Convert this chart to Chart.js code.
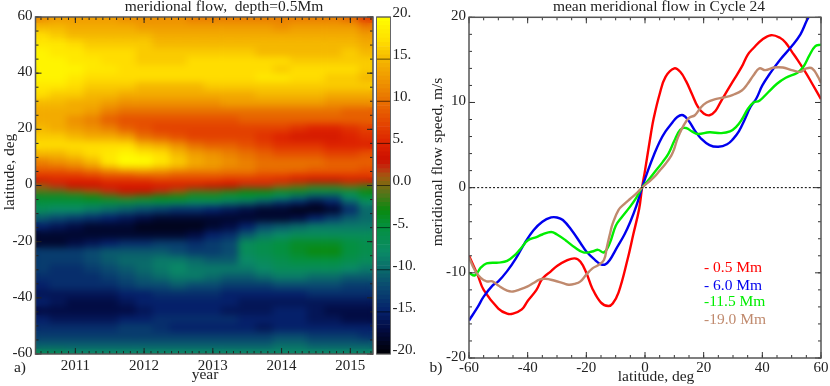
<!DOCTYPE html>
<html>
<head>
<meta charset="utf-8">
<script src="https://cdn.jsdelivr.net/npm/chart.js@4"></script>
<style>
  html, body { margin: 0; padding: 0; background: #fff; overflow: hidden; }
  canvas { position: absolute; top: 0; }
</style>
</head>
<body>
<canvas id="flowMap" width="375" height="386" style="left:0"></canvas>
<canvas id="colorBar" width="45" height="386" style="left:370px"></canvas>
<canvas id="meanFlow" width="415" height="386" style="left:415px"></canvas>
<script>
// panel a) columns, in years
var years = [2010.5, 2010.75, 2011, 2011.25, 2011.5, 2011.75, 2012, 2012.25, 2012.5, 2012.75,
             2013, 2013.25, 2013.5, 2013.75, 2014, 2014.25, 2014.5, 2014.75, 2015, 2015.25];
var yearTicks = [2011, 2012, 2013, 2014, 2015];

// panel a) row edges in latitude, one more than there are rows
var latEdges = [62, 58, 55, 52, 49, 46, 43, 40, 37, 34, 31, 28, 25, 22, 19, 16, 13, 10, 7, 5, 3, 1,
                -1, -3, -5, -7, -10, -13, -16, -19, -22, -25, -28, -31, -34, -37, -40, -43, -46, -49, -52, -55, -58, -62];

// panel a) flow speed m/s, one row per latitude band, north to south
var flowRows = [
  [12, 13, 13, 13, 13, 12, 12, 12, 12, 11, 11, 11, 11, 11, 11, 11, 11, 11, 10, 7],
  [15, 15, 14, 14, 14, 14, 13, 13, 13, 13, 13, 13, 13, 13, 12, 13, 13, 13, 13, 11],
  [17, 16, 15, 15, 15, 15, 15, 14, 14, 14, 14, 14, 14, 14, 14, 14, 14, 14, 14, 13],
  [18, 18, 17, 16, 16, 16, 16, 15, 15, 15, 15, 15, 15, 15, 15, 15, 15, 15, 15, 14],
  [19, 18, 18, 17, 17, 17, 16, 16, 16, 16, 16, 16, 16, 15, 15, 15, 15, 15, 16, 15],
  [19, 19, 18, 18, 17, 17, 16, 16, 16, 17, 17, 17, 17, 17, 17, 16, 16, 16, 16, 16],
  [19, 19, 19, 18, 18, 17, 17, 17, 17, 17, 17, 17, 17, 17, 16, 17, 17, 17, 17, 16],
  [19, 19, 18, 17, 17, 17, 17, 17, 17, 17, 17, 17, 17, 18, 18, 17, 17, 16, 16, 15],
  [18, 18, 17, 16, 16, 16, 15, 15, 15, 15, 16, 16, 16, 16, 16, 16, 16, 16, 16, 16],
  [17, 16, 16, 15, 15, 14, 14, 14, 14, 14, 14, 14, 14, 15, 15, 15, 15, 14, 14, 14],
  [15, 15, 14, 14, 13, 12, 12, 12, 12, 12, 12, 13, 13, 13, 13, 13, 13, 12, 12, 12],
  [14, 14, 14, 13, 11, 10, 10, 10, 10, 10, 10, 10, 10, 10, 10, 10, 10, 10, 9, 9],
  [14, 14, 12, 11, 9, 8, 8, 8, 8, 8, 8, 8, 9, 9, 9, 9, 9, 9, 9, 9],
  [15, 14, 13, 12, 11, 9, 8, 7, 7, 7, 7, 7, 7, 7, 7, 6, 5, 5, 6, 7],
  [16, 16, 15, 14, 14, 13, 10, 9, 8, 7, 7, 7, 7, 6, 5, 4, 4, 4, 5, 6],
  [17, 17, 17, 17, 17, 17, 15, 14, 12, 10, 9, 9, 8, 7, 6, 6, 6, 5, 5, 5],
  [15, 15, 16, 17, 18, 19, 18, 17, 15, 13, 12, 11, 10, 9, 8, 8, 8, 7, 7, 8],
  [11, 12, 13, 15, 18, 20, 20, 18, 16, 14, 13, 12, 11, 10, 10, 10, 10, 9, 9, 9],
  [9, 9, 10, 11, 13, 15, 15, 14, 13, 12, 12, 11, 11, 10, 10, 10, 9, 9, 9, 8],
  [7, 7, 7, 8, 9, 9, 10, 10, 9, 9, 9, 9, 9, 8, 8, 7, 7, 7, 7, 7],
  [4, 5, 5, 5, 6, 6, 6, 7, 7, 7, 7, 6, 6, 6, 5, 4, 3, 3, 4, 4],
  [1, 2, 3, 3, 4, 4, 4, 4, 4, 4, 3, 3, 2, 2, 1, 0, -1, -1, 0, -1],
  [-1, -1, 0, 1, 2, 3, 3, 2, 1, -1, -1, -2, -3, -3, -4, -4, -5, -5, -5, -3],
  [-4, -4, -4, -3, -2, -1, -2, -3, -3, -4, -4, -5, -5, -6, -8, -10, -12, -12, -8, -5],
  [-5, -5, -5, -5, -5, -5, -6, -6, -7, -8, -8, -9, -10, -12, -14, -15, -17, -15, -11, -8],
  [-7, -8, -8, -9, -10, -11, -12, -13, -14, -14, -15, -16, -17, -18, -18, -19, -19, -18, -14, -10],
  [-11, -12, -13, -14, -15, -16, -17, -18, -18, -18, -18, -18, -18, -18, -18, -17, -15, -13, -11, -10],
  [-15, -16, -17, -18, -18, -18, -19, -19, -19, -19, -18, -17, -15, -12, -11, -10, -9, -9, -9, -9],
  [-18, -18, -18, -18, -18, -18, -18, -18, -18, -17, -15, -14, -11, -9, -8, -7, -7, -7, -7, -7],
  [-18, -18, -17, -16, -15, -14, -14, -13, -13, -14, -13, -12, -7, -6, -5, -4, -4, -4, -5, -6],
  [-13, -13, -13, -12, -11, -11, -11, -11, -12, -13, -13, -12, -7, -6, -5, -4, -3, -3, -5, -6],
  [-13, -13, -13, -12, -11, -10, -10, -9, -9, -10, -11, -11, -8, -7, -6, -5, -5, -5, -6, -7],
  [-13, -14, -14, -13, -12, -11, -10, -9, -8, -9, -9, -9, -9, -8, -7, -7, -7, -7, -8, -9],
  [-14, -14, -14, -14, -13, -12, -11, -10, -9, -9, -10, -11, -11, -10, -9, -9, -10, -10, -11, -11],
  [-15, -14, -14, -14, -14, -13, -12, -12, -11, -12, -12, -13, -13, -13, -12, -12, -12, -12, -13, -13],
  [-16, -16, -16, -16, -16, -15, -15, -14, -14, -14, -14, -15, -15, -15, -15, -15, -14, -14, -14, -14],
  [-15, -16, -17, -17, -17, -16, -15, -15, -15, -15, -15, -15, -16, -16, -16, -16, -16, -16, -16, -16],
  [-17, -17, -17, -17, -17, -17, -16, -15, -15, -15, -15, -16, -16, -16, -15, -15, -16, -17, -17, -17],
  [-15, -16, -16, -16, -16, -15, -15, -14, -14, -14, -14, -14, -15, -15, -15, -15, -16, -16, -17, -17],
  [-14, -14, -14, -14, -14, -13, -13, -14, -15, -15, -15, -15, -15, -16, -15, -15, -15, -15, -15, -15],
  [-13, -13, -13, -13, -13, -13, -13, -13, -13, -13, -13, -13, -13, -13, -12, -12, -13, -13, -13, -14],
  [-11, -11, -11, -11, -11, -11, -11, -11, -11, -11, -11, -11, -11, -11, -10, -10, -11, -11, -11, -11],
  [-7, -7, -8, -8, -8, -8, -8, -8, -8, -8, -8, -8, -8, -8, -8, -8, -8, -8, -8, -8]
];

// colour table for the map and its bar
var colorValues = [-20, -17, -15, -12, -10, -8, -5, -3, -1, 0, 1, 2, 3, 5, 8, 10, 12, 15, 17, 20];
var colorStops = ['#000005', '#020c44', '#05206a', '#0a4a70', '#0a6a6a', '#0a8a66', '#049040', '#0a8a10',
                  '#55751a', '#7a6a10', '#a05a10', '#c03010', '#cc1100', '#dd2200', '#e65000', '#e87000',
                  '#ee9000', '#f5b800', '#ffdd00', '#ffff00'];
var colorBarTicks = [-20, -15, -10, -5, 0, 5, 10, 15, 20];

// panel b) curves, latitude then speed
var lat05 = [-60, -57, -55, -50, -47, -45, -42, -40, -37, -35, -32, -30, -27, -24, -22, -20, -18, -15, -12.5, -11, -9, -6, -4, -2, -1, 0, 2, 3, 5, 7, 10, 12, 14, 16, 18, 20, 22, 24, 26, 30, 33, 35, 37, 40, 43, 46, 48, 50, 52, 55, 57, 60];
var val05 = [-8, -10.3, -12, -14.2, -14.8, -14.8, -14.3, -13.3, -12, -10.7, -9.8, -9.2, -8.6, -8.3, -8.7, -10, -11.8, -13.5, -13.9, -13.6, -12.3, -8.5, -5.5, -2.5, 0, 2, 6.3, 8.2, 11, 13, 14, 13.6, 12.5, 11, 9.5, 8.7, 8.5, 9, 10.2, 12.5, 14.2, 15.6, 16.4, 17.4, 17.9, 17.6, 17, 16, 15, 13.4, 12.2, 10.4];

var lat60 = [-60, -57, -55, -52, -50, -47, -44, -41, -38, -35, -32, -30, -28, -25, -22, -20, -17, -15, -13.5, -12, -10, -7, -5, -3, -1, 1, 3, 5, 7, 9, 11, 13, 15, 17, 19, 22, 25, 28, 30, 32, 34, 36, 38, 40, 43, 46, 50, 53, 55, 56, 58, 60];
var val60 = [-15.6, -14, -12.8, -11.5, -11, -9.8, -8.3, -6.5, -5, -4, -3.5, -3.5, -3.8, -5, -6.5, -7.5, -8.5, -9, -9, -8.5, -7.3, -5.5, -4, -2.2, 0, 2, 3.8, 5.4, 6.6, 7.5, 8.3, 8.5, 7.8, 6.7, 5.8, 5, 4.8, 5.1, 5.7, 6.6, 8, 9.5, 10.5, 12, 13.6, 15, 16.6, 18, 19.5, 20.2, 22, 24];

var lat115 = [-60, -58, -56, -54, -50, -47, -44, -42, -40, -37, -35, -32, -30, -27, -24, -21, -18, -16, -14, -12, -10, -8, -5, -3, -1, 1, 3, 6, 8, 10, 12, 14, 16, 18, 22, 26, 29, 31, 33, 35, 37, 39, 42, 45, 48, 52, 54, 56, 58, 60];
var val115 = [-10, -10.3, -9.4, -8.9, -8.8, -8.6, -7.8, -7, -6.2, -5.8, -5.5, -5.2, -5.5, -6.2, -7, -7.6, -7.5, -7.3, -7.6, -6.5, -4.5, -3.5, -2.2, -1.2, 0, 0.8, 1.7, 3, 4, 5.5, 6.8, 7, 6.6, 6.3, 6.5, 6.4, 6.6, 7.1, 8, 9.2, 10, 10.2, 11.2, 12.2, 12.9, 13.5, 14.2, 15.5, 16.6, 16.8];

var lat190 = [-60, -58, -56, -54, -52, -50, -47, -45, -43, -40, -38, -36, -34, -31, -28, -26, -24, -22, -20, -18, -16, -14, -13, -12, -11, -9, -7, -5, -3, -1, 1, 3, 5, 7, 9, 10, 11, 12, 13, 15, 17, 19, 21, 24, 27, 30, 33, 35, 37, 39, 41, 44, 47, 50, 53, 55, 57, 59, 60];
var val190 = [-8.2, -9.7, -10.6, -11, -11, -11.5, -12.1, -12.2, -12, -11.6, -11.2, -10.8, -10.7, -10.9, -11.2, -11.4, -11.3, -11, -10.2, -9.5, -9.1, -8.5, -7, -5.5, -4.2, -2.6, -1.9, -1.3, -0.7, 0, 0.6, 1.2, 2, 2.8, 3.8, 4.6, 5.7, 6.5, 7.2, 8.2, 8.5, 9.4, 10, 10.4, 10.6, 10.9, 11.4, 12.2, 13.2, 14, 13.8, 14.1, 14.1, 13.8, 13.6, 14, 14, 13, 12.3];

var depthLabels = ['- 0.5 Mm', '- 6.0 Mm', '-11.5 Mm', '-19.0 Mm'];
var depthColors = ['#ff0000', '#0000ee', '#00ee00', '#c08a6e'];

var serif = '"Liberation Serif", "Times New Roman", serif';
var inkColor = '#222';

function hexToRgb(hex)
{
  return [parseInt(hex.substr(1, 2), 16), parseInt(hex.substr(3, 2), 16), parseInt(hex.substr(5, 2), 16)];
}

// piecewise colour lookup in the table above
function colorFor(value)
{
  var i = 0;
  while (i < colorValues.length - 2 && value > colorValues[i + 1]) {
    i++;
  }
  var t = (value - colorValues[i]) / (colorValues[i + 1] - colorValues[i]);
  t = Math.max(0, Math.min(1, t));
  var a = hexToRgb(colorStops[i]);
  var b = hexToRgb(colorStops[i + 1]);
  return 'rgb(' + Math.round(a[0] + (b[0] - a[0]) * t) + ',' + Math.round(a[1] + (b[1] - a[1]) * t) + ',' + Math.round(a[2] + (b[2] - a[2]) * t) + ')';
}

function pairs(xs, ys)
{
  var out = [];
  for (var i = 0; i < xs.length; i++) {
    out.push({x: xs[i], y: ys[i]});
  }
  return out;
}

function range(from, to, step)
{
  var out = [];
  for (var v = from; v <= to + 1e-6; v += step) {
    out.push(v);
  }
  return out;
}

// inward ticks on all four sides and the frame round the plot
var frameTicks = {
  id: 'frameTicks',
  afterDraw: function (chart, args, opts) {
    var ctx = chart.ctx;
    var area = chart.chartArea;
    var x = chart.scales.x;
    var y = chart.scales.y;
    ctx.save();
    ctx.strokeStyle = opts.tickColor;
    ctx.lineWidth = 1;
    ctx.beginPath();
    function xTicks(list, len) {
      list.forEach(function (v) {
        var p = x.getPixelForValue(v);
        ctx.moveTo(p, area.bottom); ctx.lineTo(p, area.bottom - len);
        ctx.moveTo(p, area.top); ctx.lineTo(p, area.top + len);
      });
    }
    function yTicks(list, len) {
      list.forEach(function (v) {
        var p = y.getPixelForValue(v);
        ctx.moveTo(area.left, p); ctx.lineTo(area.left + len, p);
        ctx.moveTo(area.right, p); ctx.lineTo(area.right - len, p);
      });
    }
    xTicks(opts.xMinor, 3);
    xTicks(opts.xMajor, 6);
    yTicks(opts.yMinor, 3);
    yTicks(opts.yMajor, 6);
    ctx.stroke();
    ctx.strokeStyle = '#555';
    ctx.lineWidth = 1.5;
    ctx.strokeRect(area.left, area.top, area.right - area.left, area.bottom - area.top);
    ctx.restore();
  }
};

// free text: panel letters, axis names, titles and the depth list
var freeText = {
  id: 'freeText',
  afterDraw: function (chart, args, opts) {
    var ctx = chart.ctx;
    opts.items.forEach(function (item) {
      ctx.save();
      ctx.translate(item.x, item.y);
      if (item.rot) {
        ctx.rotate(item.rot);
      }
      ctx.font = (item.size || 15.5) + 'px ' + serif;
      ctx.fillStyle = item.color || inkColor;
      ctx.textAlign = item.align || 'center';
      ctx.textBaseline = 'middle';
      ctx.fillText(item.text, 0, 0);
      ctx.restore();
    });
  }
};

// the map is soft in the original, so the cells get blurred into each other
var softenCells = {
  id: 'softenCells',
  afterDatasetsDraw: function (chart) {
    var ctx = chart.ctx;
    var a = chart.chartArea;
    ctx.save();
    ctx.beginPath();
    ctx.rect(a.left, a.top, a.right - a.left, a.bottom - a.top);
    ctx.clip();
    ctx.filter = 'blur(3.5px)';
    ctx.drawImage(chart.canvas, 0, 0);
    ctx.restore();
  }
};

var mapDatasets = [];
for (var r = 0; r < flowRows.length; r++) {
  var cells = [];
  var cellColors = [];
  for (var c = 0; c < years.length; c++) {
    cells.push({x: years[c], y: [latEdges[r + 1], latEdges[r]]});
    cellColors.push(colorFor(flowRows[r][c]));
  }
  mapDatasets.push({
    data: cells,
    backgroundColor: cellColors,
    grouped: false,
    categoryPercentage: 1,
    barPercentage: 1,
    borderWidth: 0
  });
}

var tickFont = {family: serif, size: 15};

var flowMap = new Chart(document.getElementById('flowMap'), {
  type: 'bar',
  data: {datasets: mapDatasets},
  plugins: [softenCells, frameTicks, freeText],
  options: {
    responsive: false,
    animation: false,
    layout: {padding: {top: 17, right: 2, left: 0, bottom: 0}},
    plugins: {
      legend: {display: false},
      tooltip: {enabled: false},
      frameTicks: {
        tickColor: '#222',
        xMajor: yearTicks,
        xMinor: range(2010.5, 2015.3, 0.1),
        yMajor: range(-60, 60, 20),
        yMinor: range(-60, 60, 5)
      },
      freeText: {
        items: [
          {text: 'meridional flow,  depth=0.5Mm', x: 224, y: 7},
          {text: 'latitude, deg', x: 10, y: 172, rot: -Math.PI / 2},
          {text: 'year', x: 205, y: 375},
          {text: 'a)', x: 20, y: 368}
        ]
      }
    },
    scales: {
      x: {
        type: 'linear',
        min: 2010.42,
        max: 2015.33,
        offset: false,
        grid: {display: false, offset: false, drawTicks: false},
        border: {display: false},
        afterFit: function (s) { s.height = 32; },
        afterBuildTicks: function (s) { s.ticks = yearTicks.map(function (v) { return {value: v}; }); },
        ticks: {
          font: tickFont,
          color: inkColor,
          padding: 3,
          maxRotation: 0,
          autoSkip: false,
          callback: function (v) { return String(v); }
        }
      },
      y: {
        min: -60,
        max: 60,
        grid: {display: false, drawTicks: false},
        border: {display: false},
        afterFit: function (s) { s.width = 35.5; },
        ticks: {stepSize: 20, font: tickFont, color: inkColor, padding: 3, labelOffset: -1}
      }
    }
  }
});

var barDatasets = [];
var barSteps = range(-20, 19.5, 0.5);
barSteps.forEach(function (v) {
  barDatasets.push({
    data: [[v, v + 0.5]],
    backgroundColor: colorFor(v + 0.25),
    grouped: false,
    categoryPercentage: 1,
    barPercentage: 1,
    borderWidth: 0
  });
});

var colorBarChart = new Chart(document.getElementById('colorBar'), {
  type: 'bar',
  data: {labels: [''], datasets: barDatasets},
  plugins: [{
    id: 'barLines',
    afterDraw: function (chart) {
      var ctx = chart.ctx;
      var a = chart.chartArea;
      ctx.save();
      ctx.strokeStyle = 'rgba(0,0,0,0.6)';
      ctx.lineWidth = 1;
      ctx.beginPath();
      colorBarTicks.forEach(function (v) {
        var p = chart.scales.y.getPixelForValue(v);
        ctx.moveTo(a.left, p);
        ctx.lineTo(a.right, p);
      });
      ctx.stroke();
      ctx.strokeStyle = '#666';
      ctx.strokeRect(a.left, a.top, a.right - a.left, a.bottom - a.top);
      ctx.restore();
    }
  }],
  options: {
    responsive: false,
    animation: false,
    layout: {padding: {top: 17, left: 6.5, right: 0, bottom: 32}},
    plugins: {legend: {display: false}, tooltip: {enabled: false}},
    scales: {
      x: {display: false},
      y: {
        position: 'right',
        min: -20,
        max: 20,
        grid: {display: false, drawTicks: false},
        border: {display: false},
        afterFit: function (s) { s.width = 24.5; },
        ticks: {
          stepSize: 5,
          font: tickFont,
          color: inkColor,
          padding: 2,
          labelOffset: -4,
          callback: function (v) { return v === 0 ? '0.0' : v + '.'; }
        }
      }
    }
  }
});

var meanFlow = new Chart(document.getElementById('meanFlow'), {
  type: 'scatter',
  data: {
    datasets: [
      {data: pairs(lat05, val05), borderColor: depthColors[0], order: 5},
      {data: pairs(lat60, val60), borderColor: depthColors[1], order: 4},
      {data: pairs(lat115, val115), borderColor: depthColors[2], order: 3},
      {data: pairs(lat190, val190), borderColor: depthColors[3], order: 2},
      {data: pairs([-60, 60], [0, 0]), borderColor: '#000', borderWidth: 1, borderDash: [2, 2], order: 1}
    ]
  },
  plugins: [frameTicks, freeText],
  options: {
    responsive: false,
    animation: false,
    showLine: true,
    layout: {padding: {top: 17.3, right: 9, left: 0, bottom: 0}},
    elements: {
      point: {radius: 0},
      line: {borderWidth: 2.4, tension: 0.4, fill: false}
    },
    plugins: {
      legend: {display: false},
      tooltip: {enabled: false},
      frameTicks: {
        tickColor: '#333',
        xMajor: range(-60, 60, 20),
        xMinor: range(-60, 60, 5),
        yMajor: range(-20, 20, 10),
        yMinor: range(-20, 20, 2)
      },
      freeText: {
        items: [
          {text: 'mean meridional flow in Cycle 24', x: 244, y: 7},
          {text: 'meridional flow speed, m/s', x: 23, y: 162, rot: -Math.PI / 2},
          {text: 'latitude, deg', x: 241, y: 377},
          {text: 'b)', x: 21, y: 368},
          {text: depthLabels[0], x: 289, y: 268, align: 'left', color: depthColors[0]},
          {text: depthLabels[1], x: 289, y: 286, align: 'left', color: depthColors[1]},
          {text: depthLabels[2], x: 289, y: 302, align: 'left', color: depthColors[2]},
          {text: depthLabels[3], x: 289, y: 320, align: 'left', color: depthColors[3]}
        ]
      }
    },
    scales: {
      x: {
        type: 'linear',
        min: -60,
        max: 60,
        grid: {display: false, drawTicks: false},
        border: {display: false},
        afterFit: function (s) { s.height = 28; },
        ticks: {stepSize: 20, font: tickFont, color: inkColor, padding: 1, maxRotation: 0, autoSkip: false}
      },
      y: {
        min: -20,
        max: 20,
        grid: {display: false, drawTicks: false},
        border: {display: false},
        afterFit: function (s) { s.width = 54; },
        ticks: {stepSize: 10, font: tickFont, color: inkColor, padding: 3, labelOffset: -1}
      }
    }
  }
});
</script>
</body>
</html>
